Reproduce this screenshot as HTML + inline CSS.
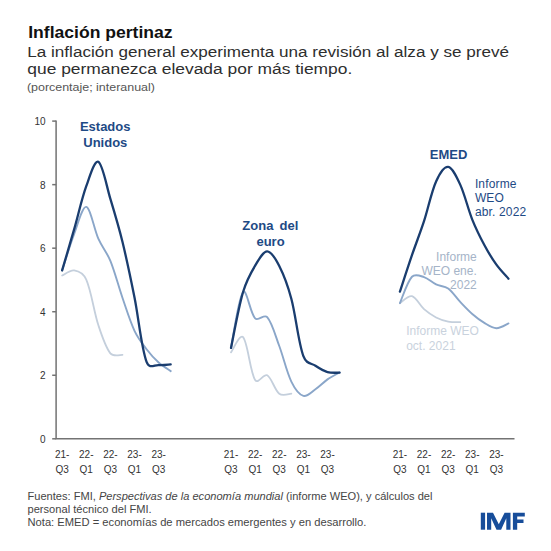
<!DOCTYPE html>
<html><head><meta charset="utf-8">
<style>
html,body{margin:0;padding:0;background:#fff;}
body{width:551px;height:551px;overflow:hidden;position:relative;font-family:"Liberation Sans",sans-serif;}
svg{position:absolute;left:0;top:0;}
.yl{font-size:10px;fill:#333;}
.xl{font-size:10px;fill:#333;}
.t{font-family:"Liberation Sans",sans-serif;}
</style></head><body>
<svg width="551" height="551" viewBox="0 0 551 551">
<text x="28.2" y="38.2" font-size="17" font-weight="bold" fill="#111" class="t" textLength="144.4" lengthAdjust="spacingAndGlyphs">Inflación pertinaz</text>
<text x="27.3" y="56.7" font-size="15.5" fill="#2e2e2e" class="t" textLength="481.7" lengthAdjust="spacingAndGlyphs">La inflación general experimenta una revisión al alza y se prevé</text>
<text x="27.3" y="74" font-size="15.5" fill="#2e2e2e" class="t" textLength="325" lengthAdjust="spacingAndGlyphs">que permanezca elevada por más tiempo.</text>
<text x="26.9" y="90.5" font-size="10.5" fill="#555" class="t" textLength="128" lengthAdjust="spacingAndGlyphs">(porcentaje; interanual)</text>
<path d="M56.1 120.6 V438.8 H514.5" stroke="#737373" stroke-width="1.5" fill="none"/>
<line x1="52.2" x2="56.1" y1="438.80" y2="438.80" stroke="#737373" stroke-width="1.5"/>
<line x1="52.2" x2="56.1" y1="375.26" y2="375.26" stroke="#737373" stroke-width="1.5"/>
<line x1="52.2" x2="56.1" y1="311.72" y2="311.72" stroke="#737373" stroke-width="1.5"/>
<line x1="52.2" x2="56.1" y1="248.18" y2="248.18" stroke="#737373" stroke-width="1.5"/>
<line x1="52.2" x2="56.1" y1="184.64" y2="184.64" stroke="#737373" stroke-width="1.5"/>
<line x1="52.2" x2="56.1" y1="121.10" y2="121.10" stroke="#737373" stroke-width="1.5"/>
<text x="45.6" y="442.80" text-anchor="end" class="yl">0</text>
<text x="45.6" y="379.26" text-anchor="end" class="yl">2</text>
<text x="45.6" y="315.72" text-anchor="end" class="yl">4</text>
<text x="45.6" y="252.18" text-anchor="end" class="yl">6</text>
<text x="45.6" y="188.64" text-anchor="end" class="yl">8</text>
<text x="45.6" y="125.10" text-anchor="end" class="yl">10</text>
<text x="62.13" y="457.8" text-anchor="middle" class="xl">21-</text>
<text x="62.13" y="472.5" text-anchor="middle" class="xl">Q3</text>
<text x="86.26" y="457.8" text-anchor="middle" class="xl">22-</text>
<text x="86.26" y="472.5" text-anchor="middle" class="xl">Q1</text>
<text x="110.38" y="457.8" text-anchor="middle" class="xl">22-</text>
<text x="110.38" y="472.5" text-anchor="middle" class="xl">Q3</text>
<text x="134.51" y="457.8" text-anchor="middle" class="xl">23-</text>
<text x="134.51" y="472.5" text-anchor="middle" class="xl">Q1</text>
<text x="158.64" y="457.8" text-anchor="middle" class="xl">23-</text>
<text x="158.64" y="472.5" text-anchor="middle" class="xl">Q3</text>
<text x="231.01" y="457.8" text-anchor="middle" class="xl">21-</text>
<text x="231.01" y="472.5" text-anchor="middle" class="xl">Q3</text>
<text x="255.14" y="457.8" text-anchor="middle" class="xl">22-</text>
<text x="255.14" y="472.5" text-anchor="middle" class="xl">Q1</text>
<text x="279.27" y="457.8" text-anchor="middle" class="xl">22-</text>
<text x="279.27" y="472.5" text-anchor="middle" class="xl">Q3</text>
<text x="303.39" y="457.8" text-anchor="middle" class="xl">23-</text>
<text x="303.39" y="472.5" text-anchor="middle" class="xl">Q1</text>
<text x="327.52" y="457.8" text-anchor="middle" class="xl">23-</text>
<text x="327.52" y="472.5" text-anchor="middle" class="xl">Q3</text>
<text x="399.90" y="457.8" text-anchor="middle" class="xl">21-</text>
<text x="399.90" y="472.5" text-anchor="middle" class="xl">Q3</text>
<text x="424.02" y="457.8" text-anchor="middle" class="xl">22-</text>
<text x="424.02" y="472.5" text-anchor="middle" class="xl">Q1</text>
<text x="448.15" y="457.8" text-anchor="middle" class="xl">22-</text>
<text x="448.15" y="472.5" text-anchor="middle" class="xl">Q3</text>
<text x="472.27" y="457.8" text-anchor="middle" class="xl">23-</text>
<text x="472.27" y="472.5" text-anchor="middle" class="xl">Q1</text>
<text x="496.40" y="457.8" text-anchor="middle" class="xl">23-</text>
<text x="496.40" y="472.5" text-anchor="middle" class="xl">Q3</text>
<path d="M62.13 275.50 C64.14 274.66 70.32 269.76 74.19 270.42 C78.36 271.13 83.27 272.86 86.26 279.63 C91.31 291.07 93.88 311.49 98.32 325.06 C101.92 336.06 105.49 347.28 110.38 353.34 C113.53 357.24 120.44 354.66 122.45 354.93" stroke="#c4cfdc" stroke-width="1.8" fill="none" stroke-linecap="round" stroke-linejoin="round"/>
<path d="M62.13 270.42 C64.14 264.33 69.91 245.17 74.19 233.88 C77.95 223.99 82.38 206.11 86.26 206.88 C90.42 207.70 94.01 228.99 98.32 238.65 C102.05 246.99 106.79 252.08 110.38 260.89 C114.83 271.77 118.33 285.81 122.45 297.74 C126.37 309.11 130.03 321.22 134.51 330.78 C138.07 338.37 142.35 343.65 146.57 349.21 C150.39 354.24 154.42 358.72 158.64 362.55 C162.46 366.03 168.69 369.70 170.70 371.13" stroke="#8aa6c9" stroke-width="1.9" fill="none" stroke-linecap="round" stroke-linejoin="round"/>
<path d="M62.13 270.42 C64.14 263.54 70.21 243.03 74.19 229.12 C78.25 214.96 81.75 198.80 86.26 186.23 C89.79 176.35 94.66 159.84 98.32 161.77 C102.70 164.07 106.49 186.03 110.38 198.94 C114.54 212.72 118.67 226.41 122.45 241.83 C126.71 259.24 130.63 278.12 134.51 297.42 C138.67 318.15 141.18 346.80 146.57 361.92 C149.23 369.36 154.58 364.67 158.64 365.09 C162.62 365.51 168.69 364.56 170.70 364.46" stroke="#1a3d6f" stroke-width="2.3" fill="none" stroke-linecap="round" stroke-linejoin="round"/>
<path d="M231.01 352.39 C233.02 349.84 239.84 333.43 243.08 337.14 C247.89 342.65 250.01 371.93 255.14 380.03 C258.06 384.64 263.70 373.28 267.20 375.26 C271.74 377.83 274.66 390.17 279.27 393.69 C282.70 396.31 289.32 393.69 291.33 393.69" stroke="#c4cfdc" stroke-width="1.8" fill="none" stroke-linecap="round" stroke-linejoin="round"/>
<path d="M231.01 347.94 C233.02 338.62 238.40 297.75 243.08 292.02 C246.44 287.90 250.29 313.35 255.14 318.39 C258.34 321.72 264.07 313.53 267.20 317.12 C272.11 322.75 275.43 335.77 279.27 346.03 C283.47 357.27 286.63 371.91 291.33 381.61 C294.68 388.53 299.07 394.54 303.39 395.91 C307.11 397.09 311.56 391.91 315.45 389.24 C319.60 386.40 323.39 382.27 327.52 379.39 C331.43 376.66 337.57 373.57 339.58 372.40" stroke="#8aa6c9" stroke-width="1.9" fill="none" stroke-linecap="round" stroke-linejoin="round"/>
<path d="M231.01 347.94 C233.02 338.62 238.40 307.98 243.08 292.02 C246.44 280.55 250.68 273.16 255.14 265.65 C258.73 259.61 263.19 251.30 267.20 251.36 C271.24 251.41 275.84 259.25 279.27 265.97 C283.88 275.03 287.82 285.57 291.33 298.69 C295.86 315.65 298.19 341.76 303.39 356.20 C306.24 364.10 311.31 363.00 315.45 365.73 C319.35 368.30 323.37 370.88 327.52 372.08 C331.42 373.21 337.57 372.61 339.58 372.72" stroke="#1a3d6f" stroke-width="2.3" fill="none" stroke-linecap="round" stroke-linejoin="round"/>
<path d="M399.90 303.14 C401.91 301.98 408.18 295.21 411.96 296.15 C416.22 297.22 419.81 305.46 424.02 309.18 C427.85 312.55 431.93 315.30 436.08 317.44 C439.97 319.43 444.07 320.76 448.15 321.57 C452.11 322.35 458.20 322.10 460.21 322.20" stroke="#c4cfdc" stroke-width="1.8" fill="none" stroke-linecap="round" stroke-linejoin="round"/>
<path d="M399.90 303.14 C401.91 298.75 407.11 282.01 411.96 276.77 C415.15 273.33 420.16 275.87 424.02 277.09 C428.20 278.41 431.96 282.44 436.08 284.40 C440.00 286.26 444.47 285.86 448.15 288.53 C452.51 291.69 456.14 297.58 460.21 301.87 C464.18 306.05 468.12 310.34 472.27 313.94 C476.16 317.33 480.19 320.38 484.34 322.84 C488.23 325.15 492.36 328.13 496.40 328.24 C500.40 328.35 506.45 324.27 508.46 323.47" stroke="#8aa6c9" stroke-width="1.9" fill="none" stroke-linecap="round" stroke-linejoin="round"/>
<path d="M399.90 291.70 C401.91 285.62 407.87 267.11 411.96 255.17 C415.91 243.60 420.14 233.03 424.02 221.18 C428.18 208.46 431.31 192.21 436.08 181.46 C439.36 174.10 444.25 166.34 448.15 166.85 C452.30 167.39 456.72 177.01 460.21 184.64 C464.76 194.59 467.98 208.84 472.27 219.59 C476.02 228.96 480.12 237.11 484.34 245.00 C488.16 252.15 492.15 258.77 496.40 264.70 C500.20 270.00 506.45 276.35 508.46 278.68" stroke="#1a3d6f" stroke-width="2.3" fill="none" stroke-linecap="round" stroke-linejoin="round"/>

<g font-weight="bold" fill="#1e4a85" font-size="13" text-anchor="middle" letter-spacing="0">
<text x="105.2" y="131.1">Estados</text>
<text x="105.3" y="146.9">Unidos</text>
<text x="270.3" y="229.8" word-spacing="2.5">Zona del</text>
<text x="270.5" y="245.7">euro</text>
<text x="448.6" y="158.5">EMED</text>
</g>
<g font-size="12" fill="#1e4a85" letter-spacing="0.15">
<text x="474.9" y="187.5">Informe</text>
<text x="474.9" y="201.5">WEO</text>
<text x="474.9" y="215.6">abr. 2022</text>
</g>
<g font-size="12" fill="#a5b4c8" text-anchor="end" letter-spacing="0">
<text x="476.8" y="261">Informe</text>
<text x="476.8" y="275.2">WEO ene.</text>
<text x="476.8" y="289.1">2022</text>
</g>
<g font-size="12" fill="#c9d2dd" letter-spacing="0">
<text x="406.2" y="334.9">Informe WEO</text>
<text x="406.2" y="349.6">oct. 2021</text>
</g>
<g font-size="10.3" fill="#454545">
<text x="27.5" y="500" textLength="405" lengthAdjust="spacingAndGlyphs">Fuentes: FMI, <tspan font-style="italic">Perspectivas de la economía mundial</tspan> (informe WEO), y cálculos del</text>
<text x="27.5" y="513" textLength="124.2" lengthAdjust="spacingAndGlyphs">personal técnico del FMI.</text>
<text x="27.5" y="526" textLength="338.9" lengthAdjust="spacingAndGlyphs">Nota: EMED = economías de mercados emergentes y en desarrollo.</text>
</g>
<g fill="#174d9a">
<rect x="480.8" y="512.7" width="4.3" height="17"/>
<polygon points="487,512.7 493,512.7 498.8,524.3 504.6,512.7 510.5,512.7 510.5,529.7 506.3,529.7 506.3,518.3 501.1,529.7 496.5,529.7 491.2,518.3 491.2,529.7 487,529.7"/>
<polygon points="512.9,512.7 524.8,512.7 524.8,516.4 517.2,516.4 517.2,519.4 523.5,519.4 523.5,523 517.2,523 517.2,529.7 512.9,529.7"/>
</g>
</svg>
</body></html>
